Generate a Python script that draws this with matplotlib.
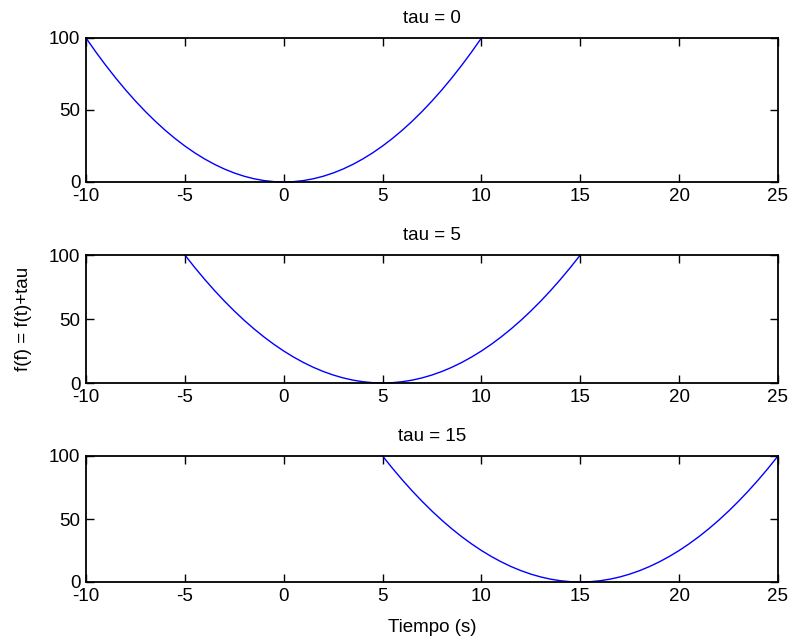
import matplotlib
matplotlib.use("Agg")
import matplotlib.pyplot as plt

plt.rcParams['font.family'] = ['Liberation Sans', 'DejaVu Sans']
plt.rcParams['axes.unicode_minus'] = False

t_values = [-10, -9.5, -9, -8.5, -8, -7.5, -7, -6.5, -6, -5.5, -5, -4.5, -4, -3.5, -3,
            -2.5, -2, -1.5, -1, -0.5, 0, 0.5, 1, 1.5, 2, 2.5, 3, 3.5, 4, 4.5, 5,
            5.5, 6, 6.5, 7, 7.5, 8, 8.5, 9, 9.5, 10]
f_values = [100, 90.25, 81, 72.25, 64, 56.25, 49, 42.25, 36, 30.25, 25, 20.25, 16, 12.25, 9,
            6.25, 4, 2.25, 1, 0.25, 0, 0.25, 1, 2.25, 4, 6.25, 9, 12.25, 16, 20.25, 25,
            30.25, 36, 42.25, 49, 56.25, 64, 72.25, 81, 90.25, 100]
taus = [0, 5, 15]
x_ticks = [-10, -5, 0, 5, 10, 15, 20, 25]
y_ticks = [0, 50, 100]
titles = ["tau = 0", "tau = 5", "tau = 15"]

FS = 13.5
fig = plt.figure(figsize=(7.92, 6.44), dpi=100)
W, H = 792, 644
boxes = [(38, 182), (255, 383), (456, 582)]
left, right = 86, 778

axes = []
for (top, bot), tau, title in zip(boxes, taus, titles):
    ax = fig.add_axes([left / W, 1 - bot / H, (right - left) / W, (bot - top) / H])
    ax.plot([t + tau for t in t_values], f_values, color='#0000ff', linewidth=1.0, clip_on=False)
    ax.set_xlim(-10, 25)
    ax.set_ylim(0, 100)
    ax.set_xticks(x_ticks)
    ax.set_yticks(y_ticks)
    ax.tick_params(direction='in', top=True, right=True, labelsize=FS, length=5.5, width=1,
                   colors='black')
    ax.tick_params(axis='x', pad=4.5)
    ax.tick_params(axis='y', pad=4.0)
    for s in ax.spines.values():
        s.set_linewidth(1.3)
    ax.set_title(title, fontsize=FS, pad=10.5)
    axes.append(ax)

axes[1].set_ylabel("f(f) = f(t)+tau", fontsize=FS, labelpad=12)
axes[2].set_xlabel("Tiempo (s)", fontsize=FS, labelpad=10)

fig.savefig("out.png", dpi=100, facecolor='white')
